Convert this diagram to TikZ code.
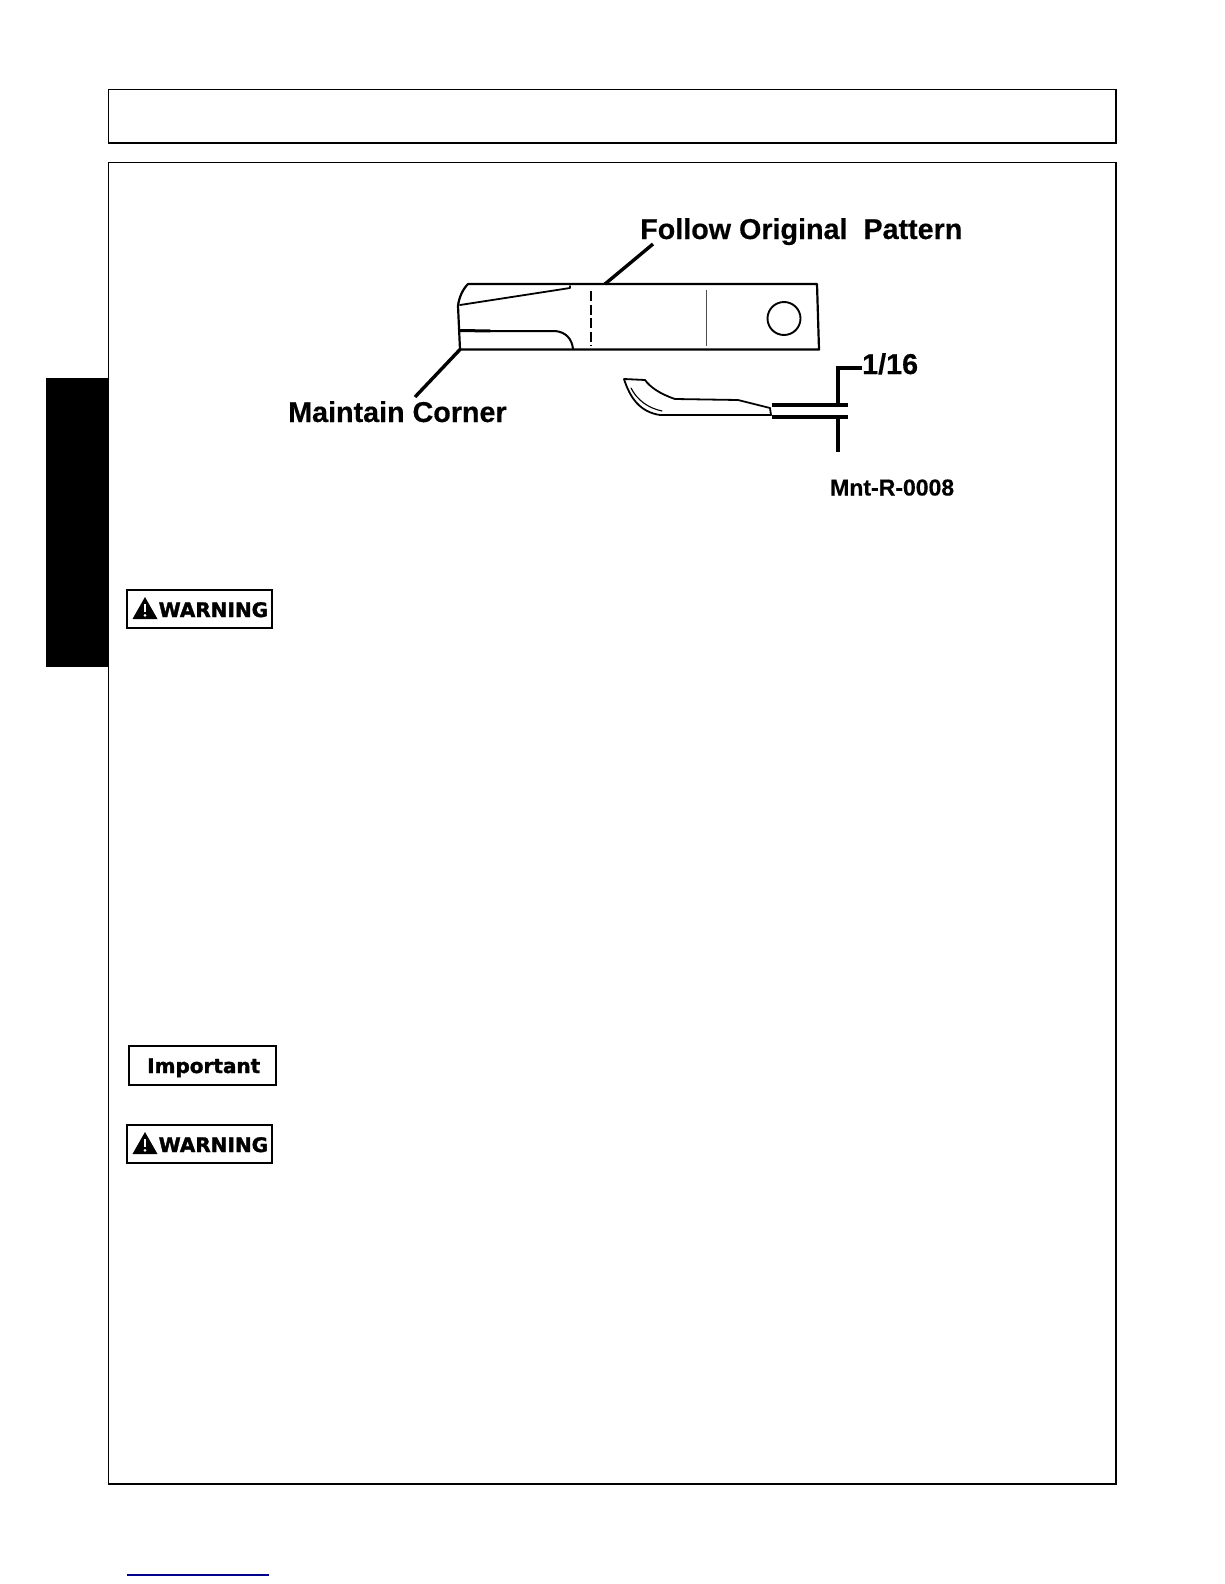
\documentclass[tikz,border=0pt]{standalone}
\usepackage{fontspec}
\setmainfont{Liberation Sans}[BoldFeatures={FakeBold=0.4}]
\newfontfamily\signfont{DejaVu Sans}[BoldFeatures={FakeBold=1.6}]
\definecolor{linkblue}{RGB}{0,0,140}
\tikzset{
  frameline/.style={draw=black,line width=1.3pt},
  bladeline/.style={draw=black,line width=2.2pt,line join=round,line cap=round},
  heavyline/.style={draw=black,line width=3.4pt},
  callout/.style={inner sep=0pt,anchor=base west,font=\bfseries\fontsize{28.7}{32}\selectfont},
  figid/.style={inner sep=0pt,anchor=base west,font=\bfseries\fontsize{23}{26}\selectfont},
  signbox/.style={draw=black,line width=2pt,fill=white,minimum width=145pt,minimum height=38pt,inner sep=0pt},
  signtext/.style={inner sep=0pt,anchor=base west,font=\signfont\bfseries\fontsize{20}{24}\selectfont},
}
\newcommand{\warnsign}[3]{% name, centre x, centre y
  \node[signbox] (#1) at (#2,#3) {};
  \fill[black,line join=round] (#2-67,#3+10) -- (#2-54.5,#3-12) -- (#2-42,#3+10) -- cycle;
  \fill[white] (#2-55.7,#3-5) rectangle (#2-53.3,#3+3);
  \fill[white] (#2-54.5,#3+6.3) circle (1.5);
  \node[signtext] (#1text) at (#2-41,#3+8) {WARNING};
}
\begin{document}
\begin{tikzpicture}[x=1pt,y=-1pt]
\useasboundingbox (0,0) rectangle (1224,1584);
\fill[white] (0,0) rectangle (1224,1584);
% page frames and tab
\fill[black] (46,378) rectangle (109,667);
\draw[frameline] (108.5,89.5) rectangle (1116,143);
\draw[frameline] (108.5,162.5) rectangle (1116,1484);
\draw[draw=linkblue,line width=1.3pt] (127,1575) -- (269,1575);
% blade
\coordinate (bTL) at (468,284);
\coordinate (bTR) at (817,284);
\coordinate (bBR) at (819,349.5);
\coordinate (bBL) at (460,349.5);
\coordinate (bTop) at (605,284);
\draw[bladeline] (bTL) -- (bTR) -- (bBR) -- (bBL) -- (458,306) .. controls (459,297) and (463,289) .. (bTL);
\draw[bladeline,line width=1.8pt] (460,305) -- (570,288) -- (570,286);
\draw[bladeline,line width=3pt] (460,330.5) -- (490,331);
\draw[bladeline,line width=2pt] (490,331) -- (555,331) .. controls (566,332) and (572,339) .. (573,349);
\draw[draw=black,line width=2.4pt,dash pattern=on 10pt off 3.5pt] (591,291) -- (591,346);
\draw[draw=black!70,line width=0.9pt] (706,290) -- (706,346);
\draw[bladeline,line width=1.9pt] (784,318.5) circle (16.5);
% section
\draw[bladeline,line width=1.8pt] (624,379) -- (645,380) .. controls (650,387) and (660,394) .. (675,399) -- (738,400) -- (770,408) -- (771,415) -- (660,415) .. controls (640,412) and (630,398) .. (624,379);
\draw[bladeline,line width=1.1pt] (631,388) .. controls (637,400) and (648,408) .. (662,411);
% dimension
\coordinate (dA) at (772,405);
\coordinate (dB) at (848,405);
\coordinate (dC) at (772,417);
\coordinate (dD) at (848,417);
\coordinate (dT) at (838,405);
\coordinate (dU) at (838,368);
\coordinate (dV) at (838,417);
\coordinate (dW) at (838,452);
\draw[heavyline] (dA) -- (dB);
\draw[heavyline] (dC) -- (dD);
\draw[heavyline] (dT) -- (dU) -- (862,368);
\draw[heavyline] (dV) -- (dW);
% labels
\node[callout] (follow) at (640,239) {Follow Original\ \ Pattern};
\node[callout] (maintain) at (288,422) {Maintain Corner};
\node[callout] (size) at (862,374) {1/16};
\node[figid] (figid) at (830,495.5) {Mnt-R-0008};
% leaders
\coordinate (followEnd) at (653,244);
\coordinate (cornerEnd) at (415,397);
\draw[heavyline] (followEnd) -- (bTop);
\draw[heavyline] (cornerEnd) -- (bBL);
% signs
\warnsign{warnA}{199.5}{609}
\node[signbox,minimum width=147pt,minimum height=39pt] (important) at (202.5,1065.5) {};
\node[signtext] (importanttext) at (147,1073) {Important};
\warnsign{warnB}{199.5}{1144}
\end{tikzpicture}
\end{document}
